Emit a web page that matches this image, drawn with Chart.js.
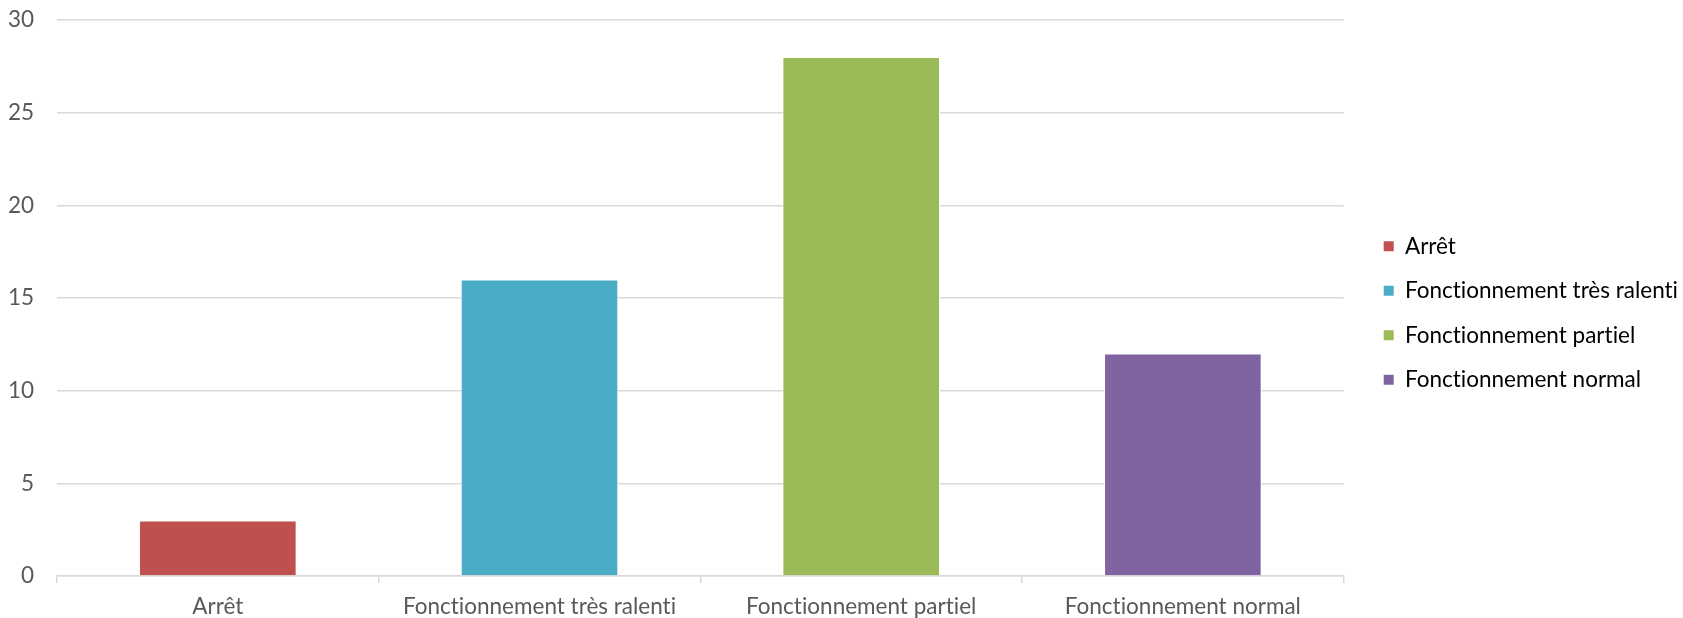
<!DOCTYPE html>
<html>
<head>
<meta charset="utf-8">
<script src="https://cdn.jsdelivr.net/npm/chart.js@4"></script>
<style>
  html, body { margin: 0; padding: 0; background: #fff; }
  #wrap { width: 1683px; height: 618px; }
</style>
</head>
<body>
<div id="wrap"><canvas id="myChart"></canvas></div>
<script>
'use strict';
const categories = ['Arrêt', 'Fonctionnement très ralenti', 'Fonctionnement partiel', 'Fonctionnement normal'];
const values = [3, 16, 28, 12];
const barColors = ['#c0504d', '#4bacc6', '#9bbb59', '#8064a2'];
const yTicks = [0, 5, 10, 15, 20, 25, 30];

const textColor = '#595959';
const gridColor = '#d9d9d9';
const fontFamily = 'Lato, "Open Sans", sans-serif';
const legendPadding = 22;
const legendShiftX = 18; // extra gap between plot and legend
const legendShiftY = -6;

Chart.defaults.font.family = fontFamily;
Chart.defaults.font.size = 22.5;
Chart.defaults.color = textColor;

// no "ti" ligatures, nudge the legend
const tweaks = {
  id: 'tweaks',
  beforeUpdate: function (chart) {
    chart.ctx.textRendering = 'optimizeSpeed';
  },
  afterLayout: function (chart) {
    chart.legend.left += legendShiftX;
    chart.legend.right += legendShiftX;
    chart.legend.top += legendShiftY;
    chart.legend.bottom += legendShiftY;
  }
};

const ctx = document.getElementById('myChart').getContext('2d');
const myChart = new Chart(ctx, {
  type: 'bar',
  data: {
    labels: categories,
    datasets: [{
      label: 'Valeurs',
      data: values,
      backgroundColor: barColors,
      borderColor: '#ffffff',
      borderWidth: 1,
      categoryPercentage: 1,
      barPercentage: 0.49
    }]
  },
  plugins: [tweaks],
  options: {
    responsive: true,
    maintainAspectRatio: false,
    animation: false,
    layout: {
      padding: { left: 7, top: 20, right: 13, bottom: 0 }
    },
    plugins: {
      tooltip: { enabled: false },
      legend: {
        position: 'right',
        labels: {
          boxWidth: 10,
          boxHeight: 10,
          padding: legendPadding,
          color: textColor,
          font: { family: fontFamily, size: 22.5 },
          generateLabels: function (chart) {
            return categories.map(function (name, i) {
              return {
                text: name,
                fillStyle: barColors[i],
                strokeStyle: barColors[i],
                lineWidth: 0,
                index: i,
                datasetIndex: 0
              };
            });
          }
        },
        onClick: function () {}
      }
    },
    scales: {
      x: {
        afterFit: function (scale) {
          scale.height = 42;
          scale.paddingLeft = 0;
          scale.paddingRight = 0;
        },
        grid: {
          offset: true,
          drawOnChartArea: false,
          drawTicks: true,
          tickLength: 7,
          color: gridColor,
          lineWidth: 1.5
        },
        border: { color: gridColor, width: 1.5 },
        ticks: { padding: 10, color: textColor, maxRotation: 0 }
      },
      y: {
        min: 0,
        max: 30,
        afterBuildTicks: function (axis) {
          axis.ticks = yTicks.map(function (v) { return { value: v }; });
        },
        afterFit: function (scale) {
          scale.width = 50;
          scale.paddingTop = 0;
          scale.paddingBottom = 0;
        },
        grid: {
          color: gridColor,
          lineWidth: 1.5,
          drawTicks: false
        },
        border: { display: false },
        ticks: { padding: 23, color: textColor }
      }
    }
  }
});
</script>
</body>
</html>
